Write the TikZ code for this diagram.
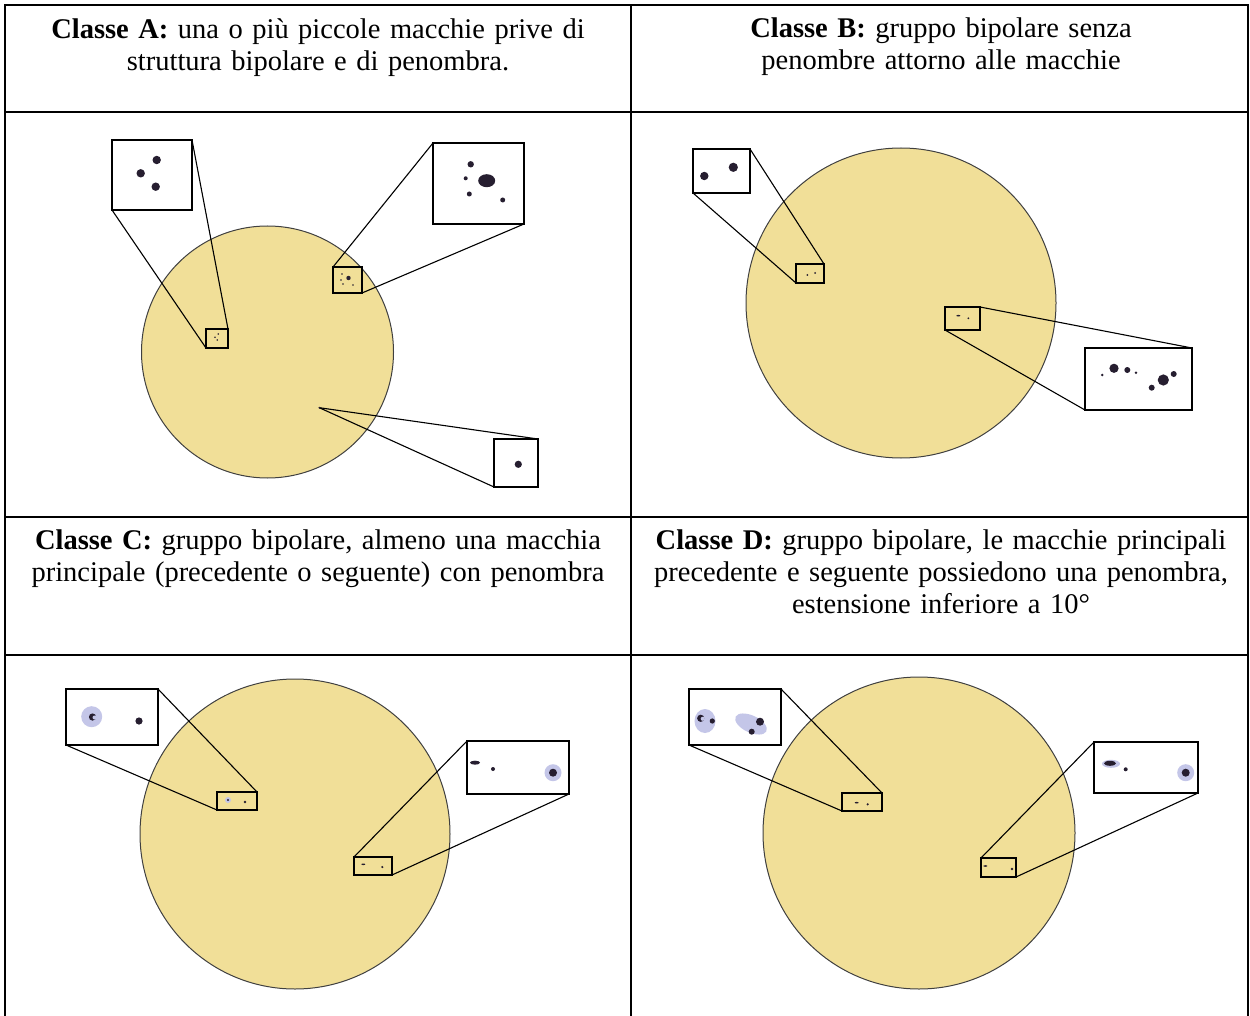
\documentclass[tikz,border=0pt]{standalone}
\usepackage{fontspec}
\setmainfont{Liberation Serif}
\usepackage{tikz}
\usetikzlibrary{positioning}

\definecolor{sunyellow}{RGB}{241,223,152}
\definecolor{spotdark}{RGB}{38,30,48}
\definecolor{penblue}{RGB}{196,198,232}

\tikzset{
  header/.style={text width=#1, align=center, inner sep=0pt, anchor=north,
                 font=\fontsize{28.5}{32}\selectfont},
  sun/.style={draw=black!75, line width=1pt, fill=sunyellow},
  spotbox/.style={draw, line width=1.4pt, inner sep=0pt, outer sep=0pt},
  inset/.style={spotbox, fill=white},
  zoomline/.style={line width=1.1pt},
  spot/.style={fill=spotdark},
  penumbra/.style={fill=penblue}
}

\begin{document}
\begin{tikzpicture}[x=1pt, y=-1pt]
  \useasboundingbox (0,0) rectangle (1250,1016);

  % table grid
  \draw [line width=2.2pt] (5,1016) -- (5,5) -- (1248,5) -- (1248,1016);
  \draw [line width=2pt] (631,5) -- (631,1016);
  \foreach \y in {112, 517, 655}
    \draw [line width=2pt] (5,\y) -- (1248,\y);

  % headers
  \node [header=600pt] (tA) at (318,18)
    {\textbf{Classe A:} una o più piccole macchie prive di\\ struttura bipolare e di penombra.};
  \node [header=600pt] (tB) at (941,18)
    {\textbf{Classe B:} gruppo bipolare senza\\ penombre attorno alle macchie};
  \node [header=610pt] (tC) at (318,530)
    {\textbf{Classe C:} gruppo bipolare, almeno una macchia\\ principale (precedente o seguente) con penombra};
  \node [header=610pt] (tD) at (941,530)
    {\textbf{Classe D:} gruppo bipolare, le macchie principali\\ precedente e seguente possiedono una penombra,\\ estensione inferiore a 10°};

  % ---- class A ----
  \fill [sun] (267.5,352) circle (126);
  \node [spotbox, minimum width=22pt, minimum height=19pt] (a1) at (217,338.5) {};
  \node [inset, minimum width=80pt, minimum height=70pt] (a1z) at (152,175) {};
  \draw [zoomline] (a1z.north east) -- (a1.north east);
  \draw [zoomline] (a1z.south west) -- (a1.south west);
  \foreach \p in {(156.7,160), (140.7,173.3), (155.7,186.7)}
    \fill [spot] \p circle (4.2);
  \foreach \p in {(218.3,334), (215,337.3), (217.3,340)}
    \fill [spot] \p circle (0.9);

  \node [spotbox, minimum width=29pt, minimum height=26pt] (a2) at (347.5,280) {};
  \node [inset, minimum width=91pt, minimum height=81pt] (a2z) at (478.5,183.5) {};
  \draw [zoomline] (a2z.north west) -- (a2.north west);
  \draw [zoomline] (a2z.south east) -- (a2.south east);
  \fill [spot] (486.7,180.7) ellipse (8.5 and 6.5);
  \fill [spot] (470.7,164.3) circle (3.2);
  \fill [spot] (465.7,178.3) circle (2);
  \fill [spot] (469.3,194) circle (2.5);
  \fill [spot] (502.7,200) circle (2.5);
  \fill [spot] (348.5,278) circle (2.2);
  \foreach \p in {(342,274), (341,280), (343,284), (353,285)}
    \fill [spot] \p circle (0.8);

  \coordinate (a3) at (319.3,407.7);
  \node [inset, minimum width=44pt, minimum height=48pt] (a3z) at (516,463) {};
  \draw [zoomline] (a3) -- (a3z.north east);
  \draw [zoomline] (a3) -- (a3z.south west);
  \fill [spot] (a3) circle (1);
  \fill [spot] (518.3,464.3) circle (3.6);

  % ---- class B ----
  \fill [sun] (901,303) circle (155);
  \node [spotbox, minimum width=28pt, minimum height=19pt] (b1) at (810,273.5) {};
  \node [inset, minimum width=57pt, minimum height=44pt] (b1z) at (721.5,171) {};
  \draw [zoomline] (b1z.north east) -- (b1.north east);
  \draw [zoomline] (b1z.south west) -- (b1.south west);
  \fill [spot] (704.3,176) circle (4.2);
  \fill [spot] (733.3,167.3) circle (4.6);
  \fill [spot] (807.3,275) circle (1);
  \fill [spot] (815,273) circle (1);

  \node [spotbox, minimum width=35pt, minimum height=23pt] (b2) at (962.5,318.5) {};
  \node [inset, minimum width=107pt, minimum height=62pt] (b2z) at (1138.5,379) {};
  \draw [zoomline] (b2.north east) -- (b2z.north east);
  \draw [zoomline] (b2.south west) -- (b2z.south west);
  \fill [spot] (1114,368.3) circle (4.6);
  \fill [spot] (1127.3,370) circle (3);
  \fill [spot] (1102.3,375) circle (1.4);
  \fill [spot] (1136,372.7) circle (1.4);
  \fill [spot] (1163.3,380) circle (5.6);
  \fill [spot] (1173.7,374) circle (3);
  \fill [spot] (1151.7,387.7) circle (3);
  \fill [spot] (958.3,315.7) ellipse (2 and 0.8);
  \fill [spot] (968.3,318.3) circle (1);

  % ---- class C ----
  \fill [sun] (295,834) circle (155);
  \node [spotbox, minimum width=40pt, minimum height=18pt] (c1) at (237,801) {};
  \node [inset, minimum width=92pt, minimum height=56pt] (c1z) at (112,717) {};
  \draw [zoomline] (c1z.north east) -- (c1.north east);
  \draw [zoomline] (c1z.south west) -- (c1.south west);
  \fill [penumbra] (91.7,716.7) circle (10.5);
  \fill [spot] (92.5,717) circle (3.6);
  \fill [penumbra] (94.5,717.5) circle (2);
  \fill [spot] (139,721) circle (3.6);
  \fill [penumbra] (228,800) circle (3);
  \fill [spot] (228,800) circle (1.1);
  \fill [spot] (245,802) circle (1.4);

  \node [spotbox, minimum width=38pt, minimum height=18pt] (c2) at (373,866) {};
  \node [inset, minimum width=102pt, minimum height=53pt] (c2z) at (518,767.5) {};
  \draw [zoomline] (c2.north west) -- (c2z.north west);
  \draw [zoomline] (c2.south east) -- (c2z.south east);
  \fill [spot] (475,762.7) ellipse (5 and 2);
  \fill [spot] (493,769) circle (2);
  \fill [penumbra] (553,772.7) circle (8.5);
  \fill [spot] (553,772.7) circle (4);
  \fill [spot] (363.3,864.3) ellipse (2 and 0.8);
  \fill [spot] (382.3,867) circle (1.2);

  % ---- class D ----
  \fill [sun] (919,833) circle (156);
  \node [spotbox, minimum width=40pt, minimum height=18pt] (d1) at (862,802) {};
  \node [inset, minimum width=92pt, minimum height=56pt] (d1z) at (735,717) {};
  \draw [zoomline] (d1z.north east) -- (d1.north east);
  \draw [zoomline] (d1z.south west) -- (d1.south west);
  \fill [penumbra] (705,721) ellipse (10.5 and 12);
  \fill [spot] (700.7,718.3) circle (3.6);
  \fill [penumbra] (702.7,718.8) circle (2);
  \fill [spot] (712.3,721) circle (2.6);
  \fill [penumbra, rotate around={-25:(751,724)}] (751,724) ellipse (17 and 8.5);
  \fill [spot] (760,721.7) circle (4);
  \fill [spot] (751.7,731.7) circle (3);
  \fill [spot] (856.7,802.7) ellipse (2 and 0.8);
  \fill [spot] (867.7,804.3) circle (1.2);

  \node [spotbox, minimum width=35pt, minimum height=19pt] (d2) at (998.5,867.5) {};
  \node [inset, minimum width=104pt, minimum height=51pt] (d2z) at (1146,767.5) {};
  \draw [zoomline] (d2.north west) -- (d2z.north west);
  \draw [zoomline] (d2.south east) -- (d2z.south east);
  \fill [penumbra] (1111,763.8) ellipse (9 and 4);
  \fill [spot] (1110,763.3) ellipse (6 and 2.5);
  \fill [spot] (1125.7,769.3) circle (2);
  \fill [penumbra] (1185.7,772.7) circle (8.5);
  \fill [spot] (1185.7,772.7) circle (4);
  \fill [spot] (985.3,866) ellipse (2 and 0.8);
  \fill [spot] (1012,869) circle (1.3);
\end{tikzpicture}
\end{document}
